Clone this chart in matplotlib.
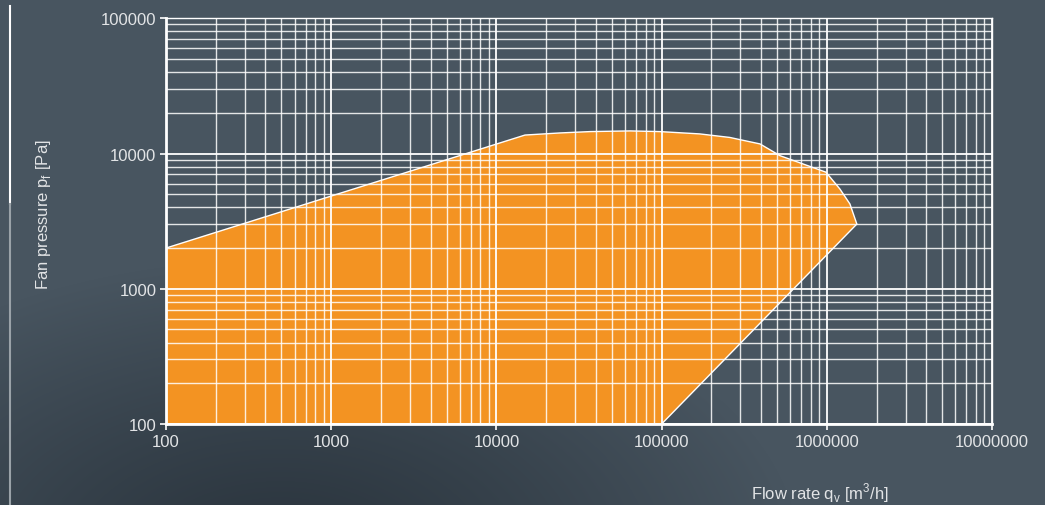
import numpy as np
import matplotlib
matplotlib.use("Agg")
import matplotlib.pyplot as plt
from matplotlib.ticker import LogLocator, FixedLocator, NullFormatter

plt.rcParams['font.family'] = ['Liberation Sans', 'DejaVu Sans']
plt.rcParams['mathtext.fontset'] = 'custom'
plt.rcParams['mathtext.rm'] = 'Liberation Sans'

# outline of the fan operating range (flow rate m3/h, pressure Pa)
flow = [100, 14900, 24300, 36900, 64400, 97700, 170000, 259000, 298000,
        394000, 521000, 988000, 1200000, 1380000, 1520000, 100000, 100]
pressure = [2000, 13700, 14200, 14530, 14700, 14530, 13970, 13150, 12670,
            11780, 9640, 7280, 5470, 4240, 3010, 100, 100]

x_ticks = [100, 1000, 10000, 100000, 1000000, 10000000]
y_ticks = [100, 1000, 10000, 100000]

txt_col = '#e2e4e6'
fill_col = '#f39322'

fig = plt.figure(figsize=(10.45, 5.06), dpi=100)

# background gradient
bg = fig.add_axes([0, 0, 1, 1])
W, H = 1045, 506
xx, yy = np.meshgrid(np.arange(W), np.arange(H))
d = np.sqrt(((xx - 280) / 520.0) ** 2 + ((yy - 560) / 300.0) ** 2)
t = np.clip(d, 0, 1) ** 1.2
dark = np.array([0x2a, 0x34, 0x3d]) / 255.0
light = np.array([0x48, 0x55, 0x60]) / 255.0
img = dark[None, None, :] * (1 - t[..., None]) + light[None, None, :] * t[..., None]
bg.imshow(img, extent=[0, 1, 0, 1], aspect='auto', origin='upper')
bg.set_axis_off()

# left vertical rule
fig.add_artist(plt.Line2D([10 / W, 10 / W], [1 - 7 / H, 1 - 205 / H],
                          color='white', lw=1.5))
fig.add_artist(plt.Line2D([10 / W, 10 / W], [1 - 205 / H, 0],
                          color='#9aa2a8', lw=1.5))

ax = fig.add_axes([166 / W, 1 - 425 / H, (992 - 166) / W, (425 - 19.3) / H])
ax.set_facecolor('none')
ax.set_xscale('log')
ax.set_yscale('log')
ax.set_xlim(100, 1e7)
ax.set_ylim(100, 1e5)

ax.fill(flow, pressure, color=fill_col, ec='white', lw=1.0, zorder=1)

ax.xaxis.set_major_locator(FixedLocator(x_ticks))
ax.yaxis.set_major_locator(FixedLocator(y_ticks))
ax.xaxis.set_minor_locator(LogLocator(base=10, subs=np.arange(2, 10)))
ax.yaxis.set_minor_locator(LogLocator(base=10, subs=np.arange(2, 10)))
ax.xaxis.set_minor_formatter(NullFormatter())
ax.yaxis.set_minor_formatter(NullFormatter())
ax.set_xticklabels([str(v) for v in x_ticks])
ax.set_yticklabels([str(v) for v in y_ticks])

ax.grid(True, which='major', color='white', lw=1.3, zorder=2)
ax.grid(True, which='minor', color='white', lw=1.0, alpha=0.85, zorder=2)
ax.set_axisbelow(False)

ax.tick_params(which='major', direction='out', length=4, width=1.2,
               color='white', labelcolor=txt_col, labelsize=12, pad=3)
ax.tick_params(which='minor', length=0)

for s in ['left', 'bottom']:
    ax.spines[s].set_color('white')
    ax.spines[s].set_linewidth(2)
for s in ['top', 'right']:
    ax.spines[s].set_color('white')
    ax.spines[s].set_linewidth(1.0)

fig.text(44 / W, 1 - 215 / H, 'Fan pressure p$_\\mathregular{f}$ [Pa]',
         rotation=90, ha='center', va='center', color=txt_col, fontsize=12)
fig.text(820 / W, 1 - 493 / H, 'Flow rate q$_\\mathregular{v}$ [m$^\\mathregular{3}$/h]',
         ha='center', va='center', color=txt_col, fontsize=12)

plt.savefig('out.png', dpi=100)
